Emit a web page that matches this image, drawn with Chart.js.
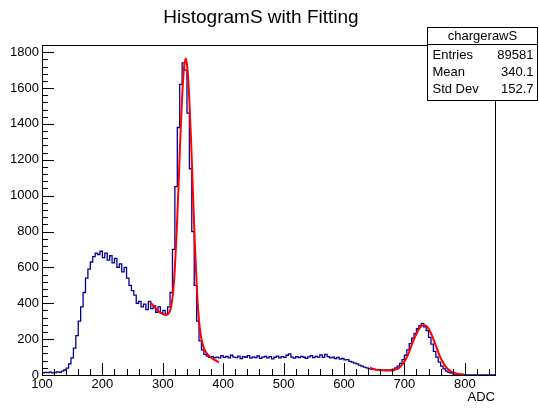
<!DOCTYPE html>
<html>
<head>
<meta charset="utf-8">
<script src="https://cdn.jsdelivr.net/npm/chart.js@4.4.1/dist/chart.umd.min.js"></script>
<style>
    html, body { margin: 0; padding: 0; background: #ffffff; }
    #wrap { width: 539px; height: 408px; }
</style>
</head>
<body>
<div id="wrap"><canvas id="chart-hist" width="539" height="408"></canvas></div>
<script>
/**
 * ROOT-style histogram "chargerawS" with two fitted peaks.
 */

const TITLE = 'HistogramS with Fitting';
const X_TITLE = 'ADC';

const X_TICKS = [100, 200, 300, 400, 500, 600, 700, 800];
const Y_TICKS = [0, 200, 400, 600, 800, 1000, 1200, 1400, 1600, 1800];

// histogram bins: low edge = BIN_START + i * BIN_WIDTH
const BIN_START = 100;
const BIN_WIDTH = 4;
const HIST_COUNTS = [
    14, 12, 15, 13, 16, 12, 14, 17, 15, 22,
    28, 38, 62, 95, 150, 220, 300, 380, 460, 540, 590, 630, 660, 680, 672,
    690, 655, 680, 640, 665, 625, 650, 600, 620, 575,
    600, 540, 500, 470, 445, 400, 410, 380, 395, 365,
    410, 370, 385, 350, 380, 345, 360, 340, 380, 460,
    700, 1050, 1380, 1620, 1740, 1700, 1460, 1150, 800, 500,
    300, 190, 140, 115, 105, 98, 102, 95, 100, 96,
    108, 98, 104, 95, 110, 100, 97, 105, 92, 103,
    99, 108, 94, 101, 97, 106, 93, 100, 104, 96,
    102, 90, 99, 105, 95, 103, 98, 110, 118, 100,
    94, 102, 97, 104, 99, 93, 101, 108, 97, 104,
    100, 112, 98, 115, 102, 95, 100, 92, 98, 88,
    92, 84, 86, 76, 72, 66, 62, 55, 50, 44,
    40, 36, 33, 31, 29, 28, 27, 26, 28, 27,
    29, 32, 40, 50, 64, 86, 110, 140, 175, 205,
    232, 258, 275, 288, 268, 248, 210, 172, 132, 100,
    72, 50, 34, 22, 15, 10, 7, 5, 3, 3,
    2, 1, 0, 0, 0, 0, 0, 0, 0, 0, 0, 0, 0,
];

// fitted curve around the main peak
const FIT1_ADC = [279, 285, 290, 295, 300, 305, 308, 311, 314, 317, 320, 323, 326, 329, 332, 335, 338,
    341, 344, 347, 350, 353, 356, 359, 362, 365, 368, 372, 377, 383, 388, 393];
const FIT1_VAL = [405, 385, 365, 350, 340, 335, 338, 350, 385, 460, 600, 800, 1050, 1320, 1550, 1710, 1765,
    1700, 1530, 1290, 1010, 740, 510, 340, 240, 185, 150, 125, 105, 90, 80, 70];

// fitted curve around the second peak
const FIT2_ADC = [643, 653, 663, 673, 683, 691, 697, 703, 708, 713, 718, 723, 728, 733, 738,
    743, 748, 753, 758, 763, 768, 773, 778, 783, 790, 798];
const FIT2_VAL = [40, 30, 26, 25, 28, 40, 60, 92, 130, 175, 215, 250, 272, 278, 268,
    240, 200, 155, 110, 75, 48, 30, 18, 11, 6, 4];

const STATS_NAME = 'chargerawS';
const STATS_LABELS = ['Entries', 'Mean', 'Std Dev'];
const STATS_VALUES = ['89581', '340.1', '152.7'];

const FONT = "'Liberation Sans', Arial, Helvetica, sans-serif";
const HIST_COLOR = '#000099';
const FIT_COLOR = '#ff0000';

function histPoints() {
    const pts = HIST_COUNTS.map((c, i) => ({ x: BIN_START + i * BIN_WIDTH, y: c }));
    pts.push({ x: BIN_START + HIST_COUNTS.length * BIN_WIDTH, y: HIST_COUNTS[HIST_COUNTS.length - 1] });
    return pts;
}

function curvePoints(xs, ys) {
    return xs.map((x, i) => ({ x: x, y: ys[i] }));
}

// frame, inside ticks, title, axis title and stats box
const rootStyle = {
    id: 'rootStyle',
    afterDatasetsDraw(chart) {
        const ctx = chart.ctx;
        const a = chart.chartArea;
        const xs = chart.scales.x;
        const ys = chart.scales.y;
        ctx.save();
        ctx.strokeStyle = '#000';
        ctx.lineWidth = 1;
        ctx.strokeRect(Math.round(a.left) + 0.5, Math.round(a.top) + 0.5,
            Math.round(a.right - a.left), Math.round(a.bottom - a.top));

        ctx.beginPath();
        // x ticks: major every 100, minor every 20
        for (let v = xs.min; v <= xs.max + 0.01; v += 20) {
            const px = Math.round(xs.getPixelForValue(v)) + 0.5;
            const len = (v % 100 === 0) ? 12 : 6;
            ctx.moveTo(px, a.bottom);
            ctx.lineTo(px, a.bottom - len);
        }
        // y ticks: major every 200, minor every 40
        for (let v = 0; v <= ys.max + 0.01; v += 40) {
            const py = Math.round(ys.getPixelForValue(v)) + 0.5;
            const len = (v % 200 === 0) ? 12 : 6;
            ctx.moveTo(a.left, py);
            ctx.lineTo(a.left + len, py);
        }
        ctx.stroke();
        // heavier axis lines
        ctx.beginPath();
        ctx.moveTo(a.left + 0.5, a.top);
        ctx.lineTo(a.left + 0.5, a.bottom + 0.5);
        ctx.lineTo(a.right, a.bottom + 0.5);
        ctx.stroke();
        ctx.restore();
    },
    afterDraw(chart) {
        const ctx = chart.ctx;
        const a = chart.chartArea;
        ctx.save();
        ctx.fillStyle = '#000';

        ctx.font = `19px ${FONT}`;
        ctx.textAlign = 'center';
        ctx.textBaseline = 'middle';
        ctx.fillText(TITLE, 261, 18);

        ctx.font = `13px ${FONT}`;
        ctx.textAlign = 'right';
        ctx.fillText(X_TITLE, a.right, 397);

        // stats box
        const bx = 427.5, by = 27.5, bw = 110, bh = 73;
        ctx.fillStyle = '#fff';
        ctx.fillRect(bx, by, bw, bh);
        ctx.strokeStyle = '#000';
        ctx.lineWidth = 1;
        ctx.strokeRect(bx, by, bw, bh);
        ctx.beginPath();
        ctx.moveTo(bx, 44.5);
        ctx.lineTo(bx + bw, 44.5);
        ctx.stroke();

        ctx.fillStyle = '#000';
        ctx.font = `13px ${FONT}`;
        ctx.textAlign = 'center';
        ctx.fillText(STATS_NAME, bx + bw / 2, 36);
        STATS_LABELS.forEach((lab, i) => {
            const y = 55 + i * 17;
            ctx.textAlign = 'left';
            ctx.fillText(lab, bx + 5, y);
            ctx.textAlign = 'right';
            ctx.fillText(STATS_VALUES[i], bx + bw - 4, y);
        });
        ctx.restore();
    },
};

new Chart(document.getElementById('chart-hist'), {
    type: 'line',
    data: {
        datasets: [
            {
                label: 'fit1',
                data: curvePoints(FIT1_ADC, FIT1_VAL),
                borderColor: FIT_COLOR,
                borderWidth: 2,
                pointRadius: 0,
                cubicInterpolationMode: 'monotone',
                fill: false,
                order: 0,
            },
            {
                label: 'fit2',
                data: curvePoints(FIT2_ADC, FIT2_VAL),
                borderColor: FIT_COLOR,
                borderWidth: 2,
                pointRadius: 0,
                cubicInterpolationMode: 'monotone',
                fill: false,
                order: 0,
            },
            {
                label: STATS_NAME,
                data: histPoints(),
                borderColor: HIST_COLOR,
                borderWidth: 1.3,
                pointRadius: 0,
                stepped: 'after',
                fill: false,
                order: 1,
            },
        ],
    },
    options: {
        responsive: false,
        animation: false,
        events: [],
        layout: { padding: { top: 45, right: 44, left: 0, bottom: 0 } },
        plugins: {
            legend: { display: false },
            tooltip: { enabled: false },
            title: { display: false },
        },
        scales: {
            x: {
                type: 'linear',
                min: 100,
                max: 850,
                grid: { display: false, drawTicks: false },
                border: { display: false },
                ticks: {
                    color: '#000',
                    font: { family: FONT, size: 13 },
                    padding: 2,
                    maxRotation: 0,
                    autoSkip: false,
                    callback: v => String(v),
                },
                afterBuildTicks: s => { s.ticks = X_TICKS.map(v => ({ value: v })); },
                afterFit: s => { s.height = 33; },
            },
            y: {
                type: 'linear',
                min: 0,
                max: 1840,
                grid: { display: false, drawTicks: false },
                border: { display: false },
                ticks: {
                    color: '#000',
                    font: { family: FONT, size: 13 },
                    padding: 3,
                    autoSkip: false,
                    callback: v => String(v),
                },
                afterBuildTicks: s => { s.ticks = Y_TICKS.map(v => ({ value: v })); },
                afterFit: s => { s.width = 42; },
            },
        },
    },
    plugins: [rootStyle],
});
</script>
</body>
</html>
